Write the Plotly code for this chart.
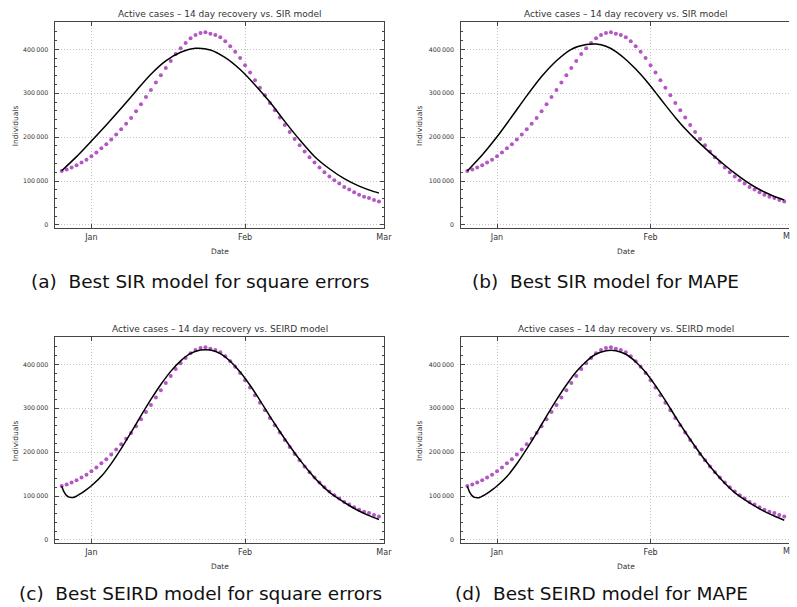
import pandas as pd
import plotly.graph_objects as go

W, H = 797, 607

# ---------------- data ----------------
data_start = "2020-12-26"
active_cases = [
    123000, 126500, 130600, 135900, 142000, 148800, 156400, 164800, 174600, 183700,
    194400, 206000, 217900, 230800, 243700, 258900, 274900, 291600, 307500, 324200,
    341200, 357600, 373600, 389500, 402400, 414600, 425200, 432800, 437400, 438900,
    435800, 432800, 427500, 418400, 407000, 394800, 380400, 363700, 347000, 329500,
    312800, 295400, 277900, 261200, 244500, 227800, 211800, 195900, 181500, 167100,
    154100, 142000, 130600, 120000, 110100, 101700, 94200, 86600, 80500, 74400,
    69100, 64500, 61500, 56900, 53200,
]
data_dates = pd.date_range(data_start, periods=len(active_cases), freq="D")

# model curves: day offsets from data_start and values
sir_sq_days = [0, 3, 6, 9, 12, 15, 18, 21, 24, 27, 30, 33, 36, 39, 42, 45, 48, 51, 54, 57, 60, 63, 64]
sir_sq_vals = [123500, 155700, 191300, 227800, 265700, 305200, 343200, 373600, 393300, 402400,
               398600, 381000, 354000, 319000, 280000, 236000, 194000, 156000, 128000, 105500,
               88500, 76000, 73000]

sir_mape_days = [0, 3, 6, 9, 12, 15, 18, 21, 24, 26, 28, 30, 32, 34, 36, 38, 40, 42, 44,
                 46, 48, 50, 52, 54, 56, 58, 60, 62, 64]
sir_mape_vals = [123000, 159500, 201000, 247000, 294000, 338000, 374000, 400000, 410800, 412000,
                 407000, 395000, 377000, 355000, 330000, 302000, 273000, 245000, 219000,
                 196000, 175000, 155000, 136000, 118000, 101500, 87000, 75000, 65000, 57000]

seird_sq_days = [0, 0.5, 1, 1.5, 2, 2.5, 3, 4, 5, 6, 8, 10, 12, 14, 16, 18, 20, 22, 24, 26,
                 28, 29, 30, 32, 34, 36, 38, 40, 42, 44, 46, 48, 50, 52, 54, 56, 58, 60, 62, 64]
seird_sq_vals = [122500, 109000, 101000, 97500, 96500, 97200, 100000, 106500, 114500, 123500,
                 145000, 174000, 208000, 245000, 283000, 320000, 354000, 384000, 408000, 425000,
                 432500, 433500, 432500, 424400, 407000, 382700, 352300, 318100, 281700, 247000,
                 214000, 183000, 155000, 130000, 109000, 93000, 78500, 66000, 55500, 46500]

seird_mape_days = seird_sq_days
seird_mape_vals = [122500, 108500, 100500, 97000, 96000, 96800, 99500, 106000, 114000, 123000,
                   144500, 173500, 207500, 244000, 282000, 319000, 353000, 383000, 406500, 423500,
                   431000, 432000, 431000, 423000, 406000, 382000, 351500, 317500, 281000, 246000,
                   213000, 182000, 154000, 129000, 108000, 92000, 77500, 65000, 54500, 45000]

titles = ["Active cases \u2013 14 day recovery vs. SIR model",
          "Active cases \u2013 14 day recovery vs. SIR model",
          "Active cases \u2013 14 day recovery vs. SEIRD model",
          "Active cases \u2013 14 day recovery vs. SEIRD model"]
captions = ["(a)\u00a0\u00a0Best SIR model for square errors",
            "(b)\u00a0\u00a0Best SIR model for MAPE",
            "(c)\u00a0\u00a0Best SEIRD model for square errors",
            "(d)\u00a0\u00a0Best SEIRD model for MAPE"]
x_tickvals = ["2021-01-01", "2021-02-01", "2021-03-01"]
x_ticktext = ["Jan", "Feb", "Mar"]
edge_label = "M"   # what remains visible of "Mar" at the page edge in the right-hand panels
y_tickvals = [0, 100000, 200000, 300000, 400000]
y_ticktext = ["0", "100\u2009000", "200\u2009000", "300\u2009000", "400\u2009000"]

models = [(sir_sq_days, sir_sq_vals), (sir_mape_days, sir_mape_vals),
          (seird_sq_days, seird_sq_vals), (seird_mape_days, seird_mape_vals)]

# ---------------- layout geometry (pixels) ----------------
panels = [
    dict(x0=56, x1=388, y0=22.3, y1=228.3, xr=["2020-12-24 17:45", "2021-03-01 01:00"], mirror_y=True,
         title=(222, 14.3), ylab=(15, 125.3), xlab=(222.7, 251.7), cap=(201.7, 281)),
    dict(x0=466, x1=797, y0=22.3, y1=228.3, xr=["2020-12-24 19:00", "2021-02-28 23:00"], mirror_y=False,
         title=(632, 14.3), ylab=(424, 125.3), xlab=(632.3, 251.7), cap=(611.3, 281)),
    dict(x0=56, x1=388, y0=337.3, y1=543.3, xr=["2020-12-24 17:45", "2021-03-01 01:00"], mirror_y=True,
         title=(222, 329.3), ylab=(15, 440.3), xlab=(222.7, 566), cap=(202.5, 593.3)),
    dict(x0=466, x1=797, y0=337.3, y1=543.3, xr=["2020-12-24 19:00", "2021-02-28 23:00"], mirror_y=False,
         title=(632, 329.3), ylab=(424, 440.3), xlab=(632, 566), cap=(607.5, 593.3)),
]

FONT = "DejaVu Sans"
FRAME = "#444444"
GRID = "#c4c4c4"
DOT = "#b456c4"

fig = go.Figure()
annotations = []
base = pd.Timestamp(data_start)

for i, (p, (mdays, mvals)) in enumerate(zip(panels, models)):
    n = "" if i == 0 else str(i + 1)
    xa, ya = "x" + n, "y" + n
    fig.add_trace(go.Scatter(x=data_dates, y=active_cases, mode="markers",
                             marker=dict(size=4, color=DOT), xaxis=xa, yaxis=ya,
                             showlegend=False, hoverinfo="skip"))
    mdates = [base + pd.Timedelta(days=d) for d in mdays]
    fig.add_trace(go.Scatter(x=mdates, y=mvals, mode="lines",
                             line=dict(color="black", width=1.5, shape="spline", smoothing=0.7),
                             xaxis=xa, yaxis=ya, showlegend=False, hoverinfo="skip"))

    xaxis = dict(domain=[p["x0"] / W, p["x1"] / W], anchor=ya, type="date", range=p["xr"],
                 tickvals=x_tickvals, ticktext=x_ticktext, ticks="inside", ticklen=4,
                 tickcolor=FRAME, showline=True, linecolor=FRAME, linewidth=1, mirror="ticks",
                 showgrid=True, gridcolor=GRID, griddash="1px,2px", gridwidth=1, zeroline=False,
                 tickfont=dict(family=FONT, size=8, color="#333333"), ticklabelstandoff=1)
    yaxis = dict(domain=[1 - p["y1"] / H, 1 - p["y0"] / H], anchor=xa, range=[-7600, 461600],
                 tickvals=y_tickvals, ticktext=y_ticktext, ticks="inside", ticklen=4,
                 tickcolor=FRAME, showline=True, linecolor=FRAME, linewidth=1,
                 mirror="ticks" if p["mirror_y"] else False,
                 showgrid=True, gridcolor=GRID, griddash="1px,2px", gridwidth=1, zeroline=False,
                 tickfont=dict(family=FONT, size=6.3, color="#333333"), ticklabelstandoff=5,
                 minor=dict(dtick=20000, tick0=0, ticks="inside", ticklen=2, tickcolor=FRAME,
                            showgrid=False))
    fig.update_layout(**{"xaxis" + n: xaxis, "yaxis" + n: yaxis})

    if not p["mirror_y"]:
        annotations.append(dict(text=edge_label, x=789.8 / W, y=1 - (p["y1"] + 8) / H,
                                xref="paper", yref="paper", xanchor="left", yanchor="middle",
                                borderpad=0, showarrow=False,
                                font=dict(family=FONT, size=8, color="#333333")))

    annotations.append(dict(text=titles[i], x=p["title"][0] / W, y=1 - p["title"][1] / H,
                            xref="paper", yref="paper", xanchor="center", yanchor="middle",
                            showarrow=False, font=dict(family=FONT, size=9, color="#333333")))
    annotations.append(dict(text="Individuals", x=p["ylab"][0] / W, y=1 - p["ylab"][1] / H,
                            xref="paper", yref="paper", xanchor="center", yanchor="middle",
                            textangle=-90, showarrow=False,
                            font=dict(family=FONT, size=7.5, color="#333333")))
    annotations.append(dict(text="Date", x=p["xlab"][0] / W, y=1 - p["xlab"][1] / H,
                            xref="paper", yref="paper", xanchor="center", yanchor="middle",
                            showarrow=False, font=dict(family=FONT, size=7.5, color="#333333")))
    annotations.append(dict(text=captions[i], x=p["cap"][0] / W, y=1 - p["cap"][1] / H,
                            xref="paper", yref="paper", xanchor="center", yanchor="middle",
                            showarrow=False, font=dict(family=FONT, size=18.5, color="#111111")))

fig.update_layout(width=W, height=H, margin=dict(l=0, r=0, t=0, b=0),
                  paper_bgcolor="white", plot_bgcolor="white",
                  annotations=annotations, showlegend=False)

fig.write_html("out.html")
